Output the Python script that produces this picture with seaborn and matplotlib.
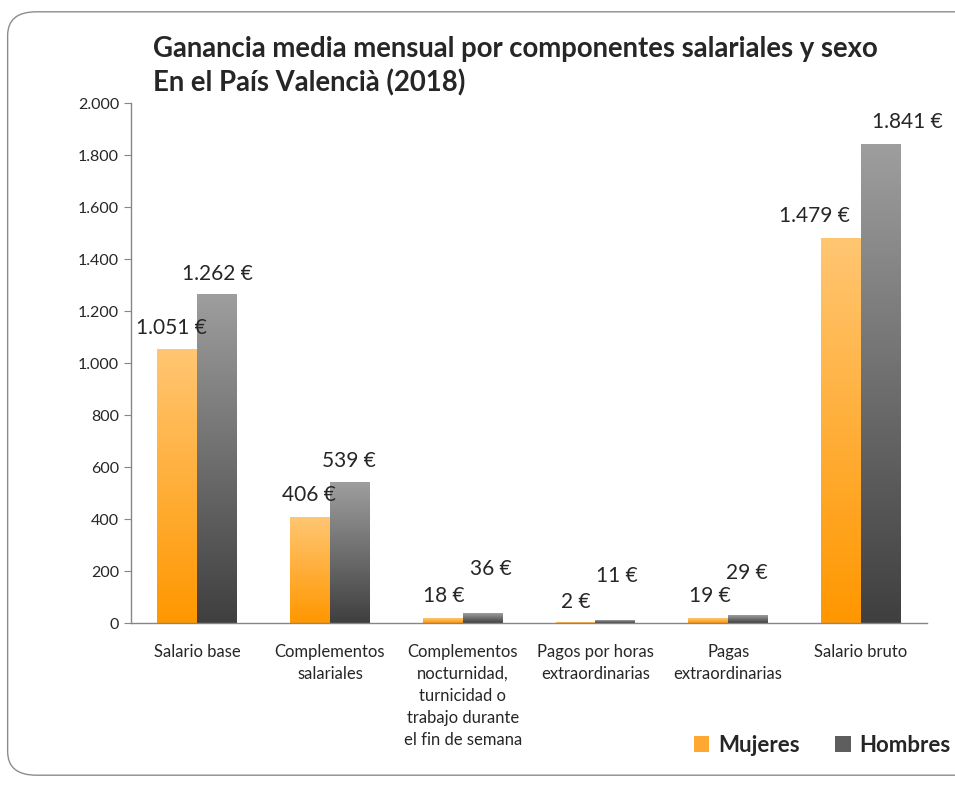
import numpy as np
import pandas as pd
import matplotlib
matplotlib.use("Agg")
import matplotlib.pyplot as plt
import seaborn as sns
from matplotlib.colors import LinearSegmentedColormap
from matplotlib.patches import FancyBboxPatch, Patch
from matplotlib.ticker import FuncFormatter

categorias = ["Salario base", "Complementos\nsalariales",
              "Complementos\nnocturnidad,\nturnicidad o\ntrabajo durante\nel fin de semana",
              "Pagos por horas\nextraordinarias", "Pagas\nextraordinarias", "Salario bruto"]
mujeres = [1051, 406, 18, 2, 19, 1479]
hombres = [1262, 539, 36, 11, 29, 1841]
etiquetas_m = ["1.051 €", "406 €", "18 €", "2 €", "19 €", "1.479 €"]
etiquetas_h = ["1.262 €", "539 €", "36 €", "11 €", "29 €", "1.841 €"]

# label offsets (points) to mimic the hand-moved labels of the original
off_m = [(-4, 16), (-1, 16), (1, 16), (0, 15), (1, 16), (-19, 16)]
off_h = [(0, 15), (-1, 16), (6, 32), (1, 32), (-1, 31), (19, 16)]

df = pd.DataFrame({
    "cat": categorias * 2,
    "valor": mujeres + hombres,
    "sexo": ["Mujeres"] * 6 + ["Hombres"] * 6,
})

sns.set_style("white")
plt.rcParams["font.family"] = ["Lato", "DejaVu Sans"]

fig = plt.figure(figsize=(9.55, 7.87), dpi=100)
ax = fig.add_axes([0.137, 0.208, 0.834, 0.661])

sns.barplot(data=df, x="cat", y="valor", hue="sexo", width=0.6,
            palette=["#FFA733", "#6A6A6A"], ax=ax, legend=False)

cmap_m = LinearSegmentedColormap.from_list("m", ["#FF9700", "#FFC672"])
cmap_h = LinearSegmentedColormap.from_list("h", ["#3F3F3F", "#9E9E9E"])
grad = np.linspace(0, 1, 256).reshape(-1, 1)

n = len(categorias)
for i, p in enumerate(ax.patches[:2 * n]):
    x0, y0 = p.get_x(), p.get_y()
    w, h = p.get_width(), p.get_height()
    if h <= 0:
        continue
    cm = cmap_m if i < n else cmap_h
    ax.imshow(grad, extent=[x0, x0 + w, y0, y0 + h], origin="lower",
              aspect="auto", cmap=cm, zorder=2)
    p.set_visible(False)

for i in range(n):
    ax.annotate(etiquetas_m[i], (i - 0.15, mujeres[i]), xytext=off_m[i],
                textcoords="offset points", ha="center", va="center", fontsize=15)
    ax.annotate(etiquetas_h[i], (i + 0.15, hombres[i]), xytext=off_h[i],
                textcoords="offset points", ha="center", va="center", fontsize=15)

ax.set_xlim(-0.5, n - 0.5)
ax.set_ylim(0, 2000)
ax.set_yticks(range(0, 2001, 200))
ax.yaxis.set_major_formatter(FuncFormatter(lambda v, _: f"{int(v):,}".replace(",", ".")))
ax.set_xticks(range(n))
ax.set_xticklabels(categorias, fontsize=12, linespacing=1.45, va="top")
ax.set_xticks(np.arange(-0.5, n, 1), minor=True)
ax.tick_params(axis="x", which="major", length=0, pad=15)
ax.tick_params(axis="x", which="minor", length=6, color="#868686", direction="out")
ax.tick_params(axis="y", length=5, color="#868686", direction="out", labelsize=11.5, left=True)
ax.set_xlabel("")
ax.set_ylabel("")
for s in ["top", "right"]:
    ax.spines[s].set_visible(False)
for s in ["left", "bottom"]:
    ax.spines[s].set_color("#868686")
    ax.spines[s].set_linewidth(1)

fig.text(0.160, 0.878, "Ganancia media mensual por componentes salariales y sexo\nEn el País Valencià (2018)",
         fontsize=19.8, fontweight="bold", ha="left", va="bottom", linespacing=1.3)

handles = [Patch(facecolor="#FFA733", edgecolor="none", label="Mujeres"),
           Patch(facecolor="#5E5E5E", edgecolor="none", label="Hombres")]
fig.legend(handles=handles, loc="center right", bbox_to_anchor=(0.998, 0.053), ncol=2,
           frameon=False, prop={"weight": "bold", "size": 16}, handlelength=0.7,
           handleheight=0.7, handletextpad=0.4, columnspacing=1.6, borderpad=0.1,
           borderaxespad=0)

border = FancyBboxPatch((0.008, 0.015), 1.05, 0.97, boxstyle="round,pad=0,rounding_size=0.03",
                        transform=fig.transFigure, facecolor="none", edgecolor="#8C8C8C",
                        linewidth=1, clip_on=False)
fig.add_artist(border)

fig.savefig("out.png", dpi=100)
